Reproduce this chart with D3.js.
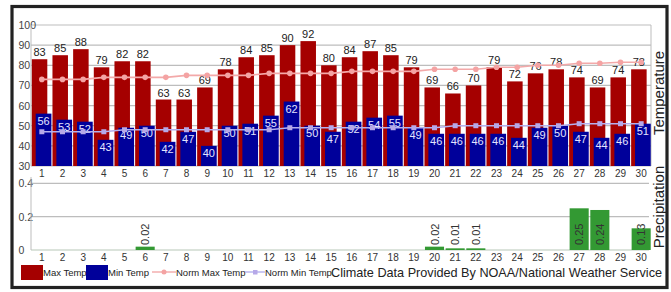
<!DOCTYPE html>
<html><head><meta charset="utf-8">
<script src="https://cdn.jsdelivr.net/npm/d3@7/dist/d3.min.js"></script>
<style>body{margin:0;background:#fff}svg{display:block;font-family:"Liberation Sans",Arial,sans-serif}</style>
</head><body>
<svg id="c" width="671" height="292"></svg>
<script>
const days = ["1","2","3","4","5","6","7","8","9","10","11","12","13","14","15","16","17","18","19","20","21","22","23","24","25","26","27","28","29","30"];
const maxTemp = [83,85,88,79,82,82,63,63,69,78,84,85,90,92,80,84,87,85,79,69,66,70,79,72,76,78,74,69,74,78];
const minTemp = [56,53,52,43,49,50,42,47,40,50,51,55,62,50,47,52,54,55,49,46,46,46,46,44,49,50,47,44,46,51];
const normMax = [73,73,73,74,74,74,74,75,75,75,75,76,76,76,76,77,77,77,77,78,78,78,79,79,80,80,81,81,81.5,81.5];
const normMin = [47,47,47,47,48,48,48,48,48,48,48,48,49,49,49,49,49,49,49,49,50,50,50,50,50,50,51,51,51,51];
const precip = [0,0,0,0,0,0.02,0,0,0,0,0,0,0,0,0,0,0,0,0,0.02,0.01,0.01,0,0,0,0,0.25,0.24,0,0.13];
const tempTicks = [30,40,50,60,70,80,90,100];
const precipTicks = [0,0.2,0.4];

const svg = d3.select("#c");
const x = d3.scaleBand().domain(days).range([31.5, 651.5]);
const bw = x.bandwidth();
const yT = d3.scaleLinear().domain([30,100]).range([166,25]);
const yP = d3.scaleLinear().domain([0,0.4]).range([250,183.3]);

// frame
svg.append("rect").attr("x",12).attr("y",6.5).attr("width",655).attr("height",281)
  .attr("fill","#fff").attr("stroke","#222").attr("stroke-width",3.2);

// temperature grid
const gT = svg.append("g");
tempTicks.forEach(t=>{
  gT.append("line").attr("x1",31).attr("x2",651).attr("y1",yT(t)).attr("y2",yT(t))
    .attr("stroke","#bdbdbd").attr("stroke-width",1.2);
  gT.append("text").attr("x",18.5).attr("y",yT(t)).attr("dominant-baseline","central")
    .attr("font-size",10.5).attr("fill","#444").text(t);
});
gT.append("line").attr("x1",31).attr("x2",31).attr("y1",yT(100)).attr("y2",yT(30)).attr("stroke","#bdbdbd");
gT.append("line").attr("x1",651).attr("x2",651).attr("y1",yT(100)).attr("y2",yT(30)).attr("stroke","#bdbdbd");

// bars
svg.append("g").selectAll("rect").data(days).join("rect")
  .attr("x",d=>x(d)+0.3).attr("width",bw*0.75)
  .attr("y",(d,i)=>yT(maxTemp[i])).attr("height",(d,i)=>yT(30)-yT(maxTemp[i]))
  .attr("fill","#a50000");
svg.append("g").selectAll("rect").data(days).join("rect")
  .attr("x",d=>x(d)+4.2).attr("width",bw*0.76)
  .attr("y",(d,i)=>yT(minTemp[i])).attr("height",(d,i)=>yT(30)-yT(minTemp[i]))
  .attr("fill","#00009a");

// labels
svg.append("g").selectAll("text").data(days).join("text")
  .attr("x",d=>x(d)+0.3+bw*0.375).attr("y",(d,i)=>yT(maxTemp[i])-3)
  .attr("text-anchor","middle").attr("font-size",11).attr("fill","#222")
  .text((d,i)=>maxTemp[i]);
svg.append("g").selectAll("text").data(days).join("text")
  .attr("x",d=>x(d)+4.2+bw*0.38).attr("y",(d,i)=>yT(minTemp[i])+11.5)
  .attr("text-anchor","middle").attr("font-size",11).attr("fill","#e4e4ff")
  .text((d,i)=>minTemp[i]);

// norm lines
const cx = d=>x(d)+bw/2;
const lineGen = d3.line().x((d,i)=>cx(days[i])).y(d=>yT(d));
svg.append("path").attr("d",lineGen(normMax)).attr("fill","none").attr("stroke","#f3a9a9").attr("stroke-width",1.6);
svg.append("g").selectAll("circle").data(normMax).join("circle")
  .attr("cx",(d,i)=>cx(days[i])).attr("cy",d=>yT(d)).attr("r",2.8).attr("fill","#f4a3a3");
svg.append("path").attr("d",lineGen(normMin)).attr("fill","none").attr("stroke","#b4b0ee").attr("stroke-width",1.4);
svg.append("g").selectAll("rect").data(normMin).join("rect")
  .attr("x",(d,i)=>cx(days[i])-2.5).attr("y",d=>yT(d)-2.5).attr("width",5).attr("height",5).attr("fill","#b6a8e8");

// x labels top
svg.append("g").selectAll("text").data(days).join("text")
  .attr("x",d=>cx(d)).attr("y",173).attr("dominant-baseline","central")
  .attr("text-anchor","middle").attr("font-size",10).attr("fill","#333").text(d=>d);

// precip panel
const gP = svg.append("g");
precipTicks.forEach(t=>{
  gP.append("line").attr("x1",31).attr("x2",649).attr("y1",yP(t)).attr("y2",yP(t))
    .attr("stroke", t===0 ? "#b8c8b8" : "#bdbdbd").attr("stroke-width",1.2);
  gP.append("text").attr("x",18.5).attr("y",yP(t)).attr("dominant-baseline","central")
    .attr("font-size",10.5).attr("fill","#444").text(t);
});
gP.append("line").attr("x1",31).attr("x2",31).attr("y1",177).attr("y2",250).attr("stroke","#bdbdbd");
svg.append("g").selectAll("rect").data(days).join("rect")
  .attr("x",d=>x(d)+0.8).attr("width",bw-1.6)
  .attr("y",(d,i)=>yP(precip[i])).attr("height",(d,i)=>Math.max(0,yP(0)-yP(precip[i])))
  .attr("fill","#339933");
svg.append("g").selectAll("text").data(days.filter((d,i)=>precip[i]>0)).join("text")
  .attr("transform",d=>`translate(${cx(d)},245) rotate(-90)`)
  .attr("dominant-baseline","central").attr("font-size",11).attr("fill","#333")
  .text(d=>precip[days.indexOf(d)].toFixed(2));
svg.append("g").selectAll("text").data(days).join("text")
  .attr("x",d=>cx(d)).attr("y",257).attr("dominant-baseline","central")
  .attr("text-anchor","middle").attr("font-size",10).attr("fill","#333").text(d=>d);

// axis titles
svg.append("text").attr("transform","translate(664,93) rotate(-90)").attr("text-anchor","middle")
  .attr("font-size",15).attr("fill","#222").text("Temperature");
svg.append("text").attr("transform","translate(664,207) rotate(-90)").attr("text-anchor","middle")
  .attr("font-size",15).attr("fill","#222").text("Precipitation");

// legend
const lg = svg.append("g").attr("font-size",9.5).attr("fill","#222");
lg.append("rect").attr("x",21).attr("y",265).attr("width",22).attr("height",15).attr("fill","#a50000");
lg.append("text").attr("x",43).attr("y",275.5).text("Max Temp");
lg.append("rect").attr("x",86).attr("y",265).attr("width",22).attr("height",15).attr("fill","#00009a");
lg.append("text").attr("x",108).attr("y",275.5).text("Min Temp");
lg.append("line").attr("x1",152).attr("x2",176).attr("y1",272).attr("y2",272).attr("stroke","#f3a9a9").attr("stroke-width",1.4);
lg.append("circle").attr("cx",164).attr("cy",272).attr("r",2.5).attr("fill","#f4a3a3");
lg.append("text").attr("x",176).attr("y",275.5).text("Norm Max Temp");
lg.append("line").attr("x1",245).attr("x2",265).attr("y1",272).attr("y2",272).attr("stroke","#b4b0ee").attr("stroke-width",1.4);
lg.append("rect").attr("x",253).attr("y",270).attr("width",4.5).attr("height",4.5).attr("fill","#b6a8e8");
lg.append("text").attr("x",265).attr("y",275.5).text("Norm Min Temp");
svg.append("text").attr("x",331).attr("y",276.5).attr("font-size",13).attr("fill","#222")
  .attr("textLength",331).attr("lengthAdjust","spacingAndGlyphs")
  .text("Climate Data Provided By NOAA/National Weather Service");
</script>
</body></html>
